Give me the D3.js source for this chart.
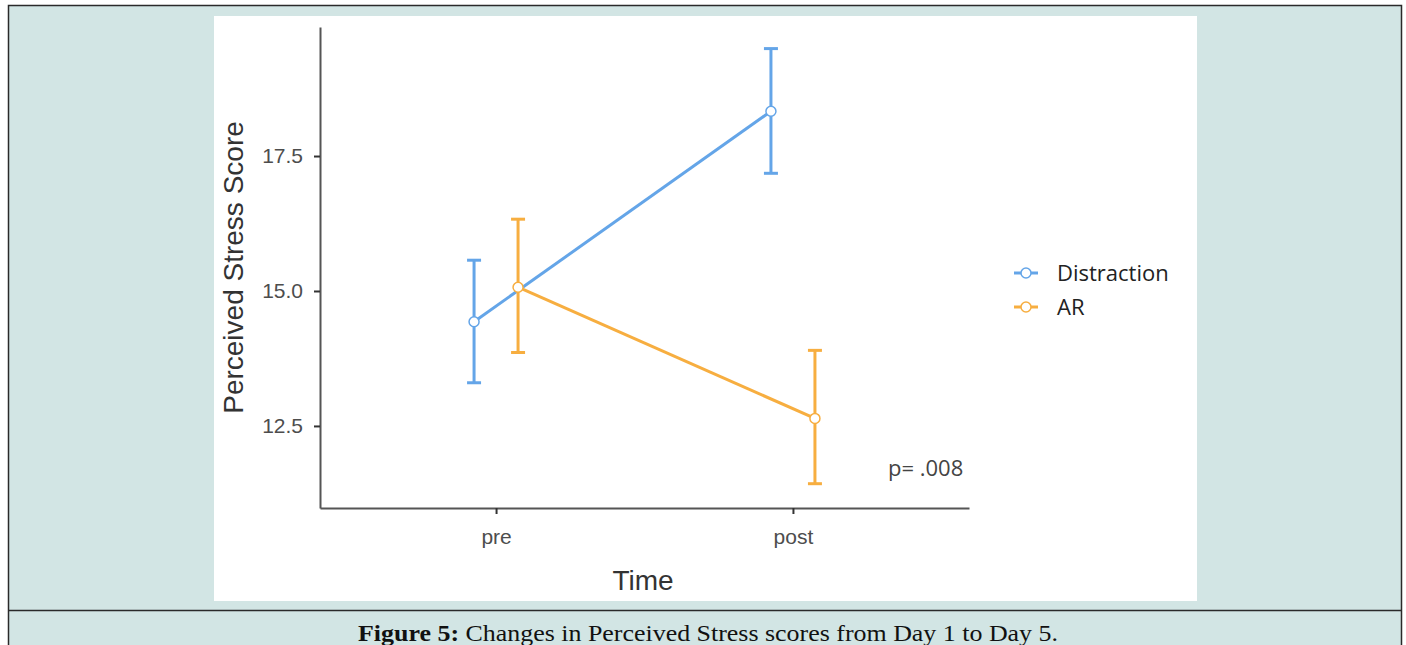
<!DOCTYPE html>
<html>
<head>
<meta charset="utf-8">
<script src="https://cdn.jsdelivr.net/npm/d3@7"></script>
<style>
  body { margin: 0; background: #fff; }
</style>
</head>
<body>
<div id="chart"></div>
<script>
// Data
const times = ["pre", "post"];
const groups = ["Distraction", "AR"];
const distractionMean = [14.43, 18.33];
const distractionLow = [13.30, 17.18];
const distractionHigh = [15.57, 19.49];
const arMean = [15.07, 12.64];
const arLow = [13.86, 11.43];
const arHigh = [16.33, 13.90];
const yTicks = [12.5, 15.0, 17.5];

const series = [
    { name: groups[0], mean: distractionMean, low: distractionLow, high: distractionHigh, color: "#64a5e8", dodge: -22 },
    { name: groups[1], mean: arMean, low: arLow, high: arHigh, color: "#f7ae40", dodge: 22 }
];

const W = 1406, H = 645;
const svg = d3.select("#chart").append("svg")
    .attr("width", W)
    .attr("height", H);

// page frame
svg.append("rect").attr("x", 0).attr("y", 0).attr("width", W).attr("height", H).attr("fill", "#ffffff");
svg.append("rect")
    .attr("x", 8.5).attr("y", 5.5).attr("width", 1393).attr("height", 650)
    .attr("fill", "#d2e5e4")
    .attr("stroke", "#2a2a2a").attr("stroke-width", 1.5);
svg.append("line")
    .attr("x1", 8).attr("x2", 1402).attr("y1", 610.5).attr("y2", 610.5)
    .attr("stroke", "#2a2a2a").attr("stroke-width", 1.5);

// white plot panel
svg.append("rect")
    .attr("x", 214).attr("y", 16).attr("width", 983).attr("height", 585)
    .attr("fill", "#ffffff");

// scales
const plotLeft = 320, plotRight = 969, plotTop = 27, plotBottom = 508;

const x = d3.scalePoint()
    .domain(times)
    .range([plotLeft, plotRight])
    .padding(0.593);

const y = d3.scaleLinear()
    .domain([10.98, 19.89])
    .range([plotBottom, plotTop]);

const sans = "'Liberation Sans', Arial, sans-serif";

// axes
const yAxis = svg.append("g")
    .attr("transform", `translate(${plotLeft},0)`)
    .call(d3.axisLeft(y).tickValues(yTicks).tickFormat(d3.format(".1f")).tickSize(6).tickSizeOuter(0));
yAxis.select(".domain").attr("stroke", "#555").attr("stroke-width", 2);
yAxis.selectAll(".tick line").attr("stroke", "#333").attr("stroke-width", 2);
yAxis.selectAll(".tick text")
    .attr("x", -17)
    .attr("fill", "#4d4d4d")
    .style("font-family", sans)
    .style("font-size", "21px");

const xAxis = svg.append("g")
    .attr("transform", `translate(0,${plotBottom})`)
    .call(d3.axisBottom(x).tickSize(6).tickSizeOuter(0));
xAxis.select(".domain").attr("stroke", "#555").attr("stroke-width", 2);
xAxis.selectAll(".tick line").attr("stroke", "#333").attr("stroke-width", 2);
xAxis.selectAll(".tick text")
    .attr("y", 36)
    .attr("dy", 0)
    .attr("fill", "#4d4d4d")
    .style("font-family", sans)
    .style("font-size", "21px");

// axis titles
svg.append("text")
    .attr("transform", `translate(243,${(plotTop + plotBottom) / 2}) rotate(-90)`)
    .attr("text-anchor", "middle")
    .attr("fill", "#333")
    .style("font-family", sans)
    .style("font-size", "28px")
    .text("Perceived Stress Score");

svg.append("text")
    .attr("x", 643)
    .attr("y", 590)
    .attr("text-anchor", "middle")
    .attr("fill", "#333")
    .style("font-family", sans)
    .style("font-size", "28px")
    .text("Time");

// lines, error bars, points
const line = d3.line();
series.forEach(s => {
    const g = svg.append("g");
    const pts = times.map((t, i) => [x(t) + s.dodge, y(s.mean[i])]);

    g.append("path")
        .attr("d", line(pts))
        .attr("fill", "none")
        .attr("stroke", s.color)
        .attr("stroke-width", 3);

    times.forEach((t, i) => {
        const cx = x(t) + s.dodge;
        g.append("line")
            .attr("x1", cx).attr("x2", cx)
            .attr("y1", y(s.low[i])).attr("y2", y(s.high[i]))
            .attr("stroke", s.color).attr("stroke-width", 3);
        [s.low[i], s.high[i]].forEach(v => {
            g.append("line")
                .attr("x1", cx - 7).attr("x2", cx + 7)
                .attr("y1", y(v)).attr("y2", y(v))
                .attr("stroke", s.color).attr("stroke-width", 3);
        });
    });

    g.selectAll("circle")
        .data(pts)
        .join("circle")
        .attr("cx", d => d[0])
        .attr("cy", d => d[1])
        .attr("r", 5)
        .attr("fill", "#fff")
        .attr("stroke", s.color)
        .attr("stroke-width", 1.5);
});

// p-value annotation
svg.append("text")
    .attr("x", 888)
    .attr("y", 476)
    .attr("fill", "#444")
    .style("font-family", "'Open Sans', 'Noto Sans', sans-serif")
    .style("font-size", "22px")
    .text("p= .008");

// legend
const legend = svg.append("g").attr("transform", "translate(1014,273)");
series.forEach((s, i) => {
    const row = legend.append("g").attr("transform", `translate(0,${i * 34})`);
    row.append("line")
        .attr("x1", 0).attr("x2", 24)
        .attr("stroke", s.color).attr("stroke-width", 3);
    row.append("circle")
        .attr("cx", 12).attr("cy", 0).attr("r", 5)
        .attr("fill", "#fff").attr("stroke", s.color).attr("stroke-width", 1.5);
    row.append("text")
        .attr("x", 43).attr("y", 0)
        .attr("dy", "0.35em")
        .attr("fill", "#222")
        .style("font-family", "'Open Sans', 'Noto Sans', sans-serif")
        .style("font-size", "22px")
        .text(s.name);
});

// caption
const cap = svg.append("text")
    .attr("x", 358)
    .attr("y", 641)
    .attr("textLength", 700)
    .attr("lengthAdjust", "spacingAndGlyphs")
    .attr("fill", "#111")
    .style("font-family", "'Liberation Serif', 'DejaVu Serif', serif")
    .style("font-size", "24px");
cap.append("tspan").attr("font-weight", "bold").text("Figure 5:");
cap.append("tspan").text(" Changes in Perceived Stress scores from Day 1 to Day 5.");
</script>
</body>
</html>
